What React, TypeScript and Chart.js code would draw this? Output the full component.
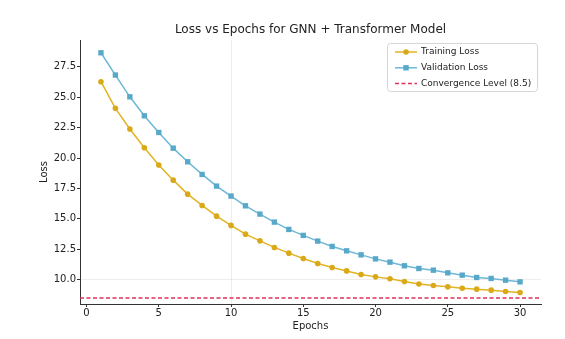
import React, { useEffect, useRef } from "react";
import { Chart, registerables } from "chart.js";

Chart.register(...registerables);

const epochs = [1, 2, 3, 4, 5, 6, 7, 8, 9, 10, 11, 12, 13, 14, 15, 16, 17, 18, 19, 20, 21, 22, 23, 24, 25, 26, 27, 28, 29, 30];
const trainingLoss = [26.27, 24.08, 22.38, 20.84, 19.42, 18.18, 17.03, 16.1, 15.22, 14.46, 13.74, 13.19, 12.65, 12.18, 11.74, 11.33, 11.0, 10.72, 10.42, 10.23, 10.07, 9.85, 9.65, 9.52, 9.41, 9.3, 9.22, 9.14, 9.03, 8.95];
const validationLoss = [28.65, 26.82, 25.03, 23.47, 22.1, 20.81, 19.69, 18.65, 17.69, 16.87, 16.07, 15.39, 14.73, 14.13, 13.64, 13.17, 12.73, 12.37, 12.04, 11.71, 11.44, 11.14, 10.92, 10.78, 10.56, 10.37, 10.18, 10.1, 9.96, 9.82];
const convergenceLevel = 8.5;
const xTicks = [0, 5, 10, 15, 20, 25, 30];
const yTicks = [10, 12.5, 15, 17.5, 20, 22.5, 25, 27.5];
const xRange = [-0.45, 31.45];
const yRange = [8.0, 29.7];

const TITLE = "Loss vs Epochs for GNN + Transformer Model";
const FONT = "'DejaVu Sans', sans-serif";
const TRAIN_COLOR = "#e2b322";
const TRAIN_POINT = "#d9a91a";
const VAL_COLOR = "#6cb8d6";
const VAL_POINT = "#58a9c9";
const CONV_COLOR = "#e0305a";

const legendItems = [
  { label: "Training Loss", color: TRAIN_COLOR, point: TRAIN_POINT, style: "circle", dash: [] as number[] },
  { label: "Validation Loss", color: VAL_COLOR, point: VAL_POINT, style: "rect", dash: [] as number[] },
  { label: "Convergence Level (8.5)", color: CONV_COLOR, point: null, style: null, dash: [4, 2.5] },
];

const decorPlugin = {
  id: "decor",
  afterDraw(chart: any) {
    const { ctx, chartArea } = chart;
    ctx.save();
    // title
    ctx.fillStyle = "#222";
    ctx.font = `12px ${FONT}`;
    ctx.textAlign = "center";
    ctx.textBaseline = "middle";
    ctx.fillText(TITLE, (chartArea.left + chartArea.right) / 2, 30);

    // legend
    const bx = 387, by = 43, bw = 150, bh = 48;
    ctx.fillStyle = "rgba(255,255,255,0.8)";
    ctx.strokeStyle = "rgba(210,210,210,0.9)";
    ctx.lineWidth = 1;
    ctx.beginPath();
    (ctx as any).roundRect ? ctx.roundRect(bx + 0.5, by + 0.5, bw, bh, 3) : ctx.rect(bx + 0.5, by + 0.5, bw, bh);
    ctx.fill();
    ctx.stroke();
    legendItems.forEach((it, i) => {
      const y = 52 + i * 15.8;
      ctx.strokeStyle = it.color;
      ctx.lineWidth = 1.5;
      ctx.setLineDash(it.dash);
      ctx.beginPath();
      ctx.moveTo(395, y);
      ctx.lineTo(417, y);
      ctx.stroke();
      ctx.setLineDash([]);
      if (it.style === "circle") {
        ctx.fillStyle = it.point as string;
        ctx.beginPath();
        ctx.arc(406, y, 2.8, 0, Math.PI * 2);
        ctx.fill();
      } else if (it.style === "rect") {
        ctx.fillStyle = it.point as string;
        ctx.fillRect(403.3, y - 2.7, 5.4, 5.4);
      }
      ctx.fillStyle = "#222";
      ctx.font = `9px ${FONT}`;
      ctx.textAlign = "left";
      ctx.textBaseline = "middle";
      ctx.fillText(it.label, 421, y);
    });
    ctx.restore();
  },
};

export default function App() {
  const ref = useRef<HTMLCanvasElement | null>(null);
  useEffect(() => {
    if (!ref.current) return;
    const chart = new Chart(ref.current, {
      type: "line",
      data: {
        datasets: [
          {
            label: "Training Loss",
            data: epochs.map((e, i) => ({ x: e, y: trainingLoss[i] })),
            borderColor: TRAIN_COLOR,
            backgroundColor: TRAIN_POINT,
            pointBackgroundColor: TRAIN_POINT,
            pointBorderWidth: 0,
            pointStyle: "circle",
            pointRadius: 2.8,
            borderWidth: 1.5,
            tension: 0,
          },
          {
            label: "Validation Loss",
            data: epochs.map((e, i) => ({ x: e, y: validationLoss[i] })),
            borderColor: VAL_COLOR,
            backgroundColor: VAL_POINT,
            pointBackgroundColor: VAL_POINT,
            pointBorderWidth: 0,
            pointStyle: "rect",
            pointRadius: 3.8,
            borderWidth: 1.5,
            tension: 0,
          },
          {
            label: "Convergence Level (8.5)",
            data: [
              { x: xRange[0], y: convergenceLevel },
              { x: xRange[1], y: convergenceLevel },
            ],
            borderColor: CONV_COLOR,
            borderDash: [4, 2.5],
            borderWidth: 1.5,
            pointRadius: 0,
            tension: 0,
          },
        ],
      },
      options: {
        animation: false,
        responsive: false,
        layout: { padding: { top: 40, right: 24, bottom: 0, left: 0 } },
        plugins: {
          legend: { display: false },
          title: { display: false },
          tooltip: { enabled: false },
        },
        scales: {
          x: {
            type: "linear",
            min: xRange[0],
            max: xRange[1],
            afterBuildTicks: (axis: any) => {
              axis.ticks = xTicks.map((v) => ({ value: v }));
            },
            afterFit: (scale: any) => {
              scale.height = 35;
            },
            ticks: {
              color: "#222",
              font: { family: FONT, size: 10 },
              padding: 0,
              maxRotation: 0,
              autoSkip: false,
              callback: (v: any) => String(v),
            },
            grid: {
              drawOnChartArea: true,
              color: (c: any) => (c.tick && c.tick.value === 10 ? "rgba(0,0,0,0.07)" : "rgba(0,0,0,0)"),
              tickColor: "#333",
              tickLength: 3,
            },
            border: { display: true, color: "#333", width: 1 },
            title: {
              display: true,
              text: "Epochs",
              color: "#222",
              font: { family: FONT, size: 10 },
              padding: { top: 0, bottom: 7 },
            },
          },
          y: {
            type: "linear",
            min: yRange[0],
            max: yRange[1],
            afterBuildTicks: (axis: any) => {
              axis.ticks = yTicks.map((v) => ({ value: v }));
            },
            afterFit: (scale: any) => {
              scale.width = 80;
            },
            ticks: {
              color: "#222",
              font: { family: FONT, size: 10 },
              padding: 1,
              autoSkip: false,
              callback: (v: any) => Number(v).toFixed(1),
            },
            grid: {
              drawOnChartArea: true,
              color: (c: any) => (c.tick && c.tick.value === 10 ? "rgba(0,0,0,0.07)" : "rgba(0,0,0,0)"),
              tickColor: "#333",
              tickLength: 3,
            },
            border: { display: true, color: "#333", width: 1 },
            title: {
              display: true,
              text: "Loss",
              color: "#222",
              font: { family: FONT, size: 10 },
              padding: { top: 38, bottom: 0 },
            },
          },
        },
      },
      plugins: [decorPlugin],
    } as any);
    return () => chart.destroy();
  }, []);
  return (
    <div style={{ position: "absolute", left: 0, top: 0, width: 565, height: 339, background: "#fff" }}>
      <canvas ref={ref} width={565} height={339} style={{ display: "block", width: 565, height: 339 }} />
    </div>
  );
}
